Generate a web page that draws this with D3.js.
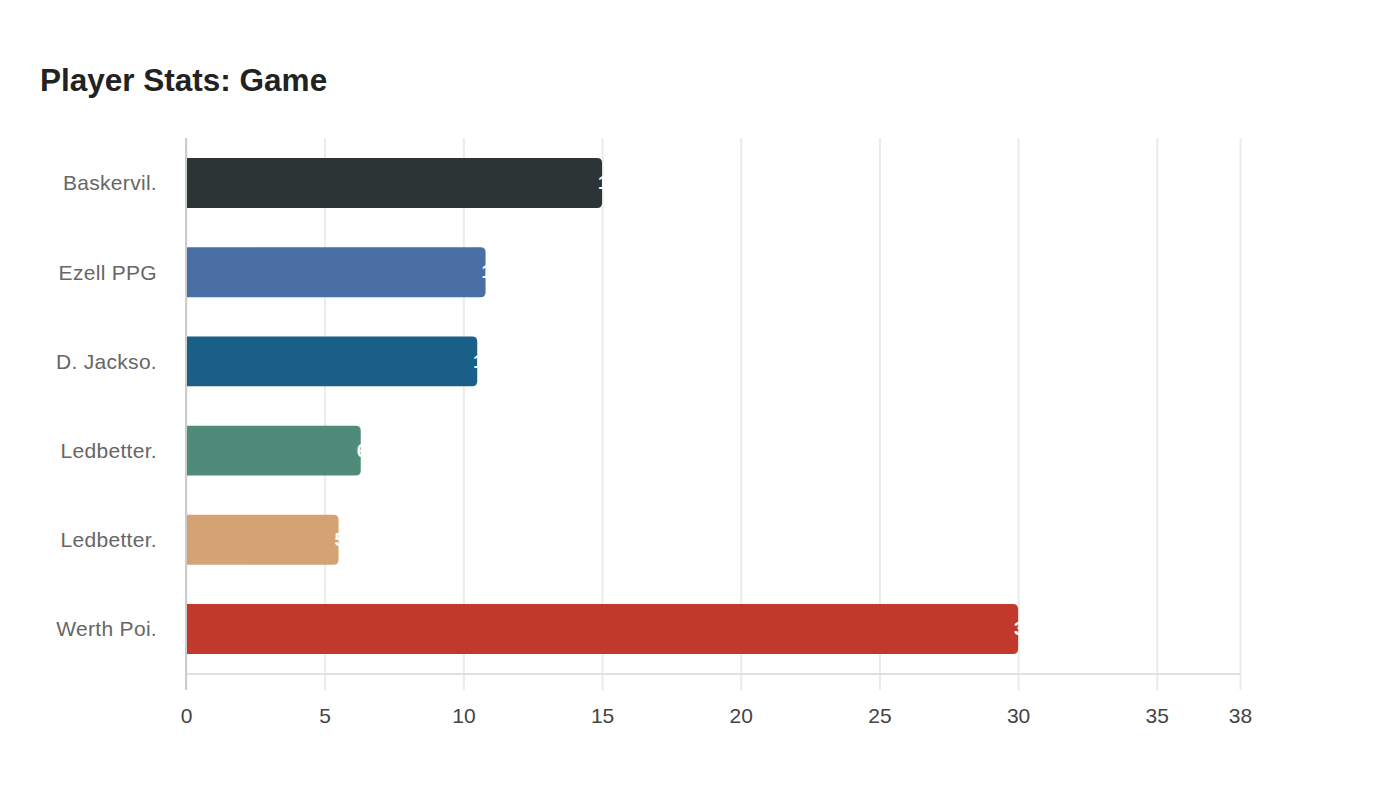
<!DOCTYPE html>
<html>
<head>
<meta charset="utf-8">
<script src="https://cdn.jsdelivr.net/npm/d3@7"></script>
<style>
  body { margin: 0; background: #fff; }
  svg { display: block; font-family: "Liberation Sans", Arial, sans-serif; }
</style>
</head>
<body>
<div id="chart"></div>
<script>
const players = ["Baskervil.", "Ezell PPG", "D. Jackso.", "Ledbetter.", "Ledbetter.", "Werth Poi."];
const points = [15, 10.8, 10.5, 6.3, 5.5, 30];
const barColors = ["#2d3436", "#4a6fa5", "#1a5f87", "#4e8c79", "#d4a373", "#c0392b"];
const tickValues = [0, 5, 10, 15, 20, 25, 30, 35, 38];

const width = 1400, height = 800;
const margin = {top: 138, right: 160, bottom: 126, left: 186};
const innerW = width - margin.left - margin.right;
const innerH = height - margin.top - margin.bottom;

const svg = d3.select("#chart").append("svg")
    .attr("width", width)
    .attr("height", height);

svg.append("text")
    .attr("x", 40)
    .attr("y", 91)
    .attr("fill", "#222")
    .style("font-size", "31.5px")
    .style("font-weight", "bold")
    .text("Player Stats: Game");

const g = svg.append("g").attr("transform", `translate(${margin.left},${margin.top})`);

const x = d3.scaleLinear().domain([0, 38]).range([0, innerW]);
const y = d3.scaleBand().domain(d3.range(players.length)).range([0, innerH])
    .paddingInner(0.44).paddingOuter(0.224);

// grid + ticks
const xAxis = g.append("g")
    .attr("transform", `translate(0,${innerH})`)
    .call(d3.axisBottom(x).tickValues(tickValues).tickSize(-innerH).tickFormat(d3.format("d")));
xAxis.select(".domain").remove();
xAxis.selectAll(".tick line")
    .attr("y1", 16)
    .attr("stroke", "#ebebeb")
    .attr("stroke-width", 2);
xAxis.selectAll(".tick text")
    .attr("y", 49)
    .attr("dy", 0)
    .attr("fill", "#444")
    .style("font-size", "21px");

g.append("line")
    .attr("x1", 0).attr("x2", innerW)
    .attr("y1", innerH).attr("y2", innerH)
    .attr("stroke", "#e0e0e0")
    .attr("stroke-width", 2);

// bars, rounded on the right only
const r = 5;
g.selectAll(".bar")
    .data(points)
    .join("path")
    .attr("class", "bar")
    .attr("fill", (d, i) => barColors[i])
    .attr("d", (d, i) => {
        const w = x(d), y0 = y(i), h = y.bandwidth();
        return `M0,${y0}H${w - r}Q${w},${y0} ${w},${y0 + r}V${y0 + h - r}Q${w},${y0 + h} ${w - r},${y0 + h}H0Z`;
    });

g.selectAll(".val")
    .data(points)
    .join("text")
    .attr("class", "val")
    .attr("x", d => x(d) - 4)
    .attr("y", (d, i) => y(i) + y.bandwidth() / 2)
    .attr("dy", "0.35em")
    .attr("fill", "#fff")
    .style("font-size", "18px")
    .style("font-weight", "bold")
    .text(d => d);

g.append("line")
    .attr("x1", 0).attr("x2", 0)
    .attr("y1", 0).attr("y2", innerH + 16)
    .attr("stroke", "#cccccc")
    .attr("stroke-width", 2);

g.selectAll(".cat")
    .data(players)
    .join("text")
    .attr("class", "cat")
    .attr("x", -29)
    .attr("y", (d, i) => y(i) + y.bandwidth() / 2)
    .attr("dy", "0.35em")
    .attr("text-anchor", "end")
    .attr("fill", "#666")
    .style("font-size", "21px")
    .style("letter-spacing", "0.3px")
    .text(d => d);
</script>
</body>
</html>
